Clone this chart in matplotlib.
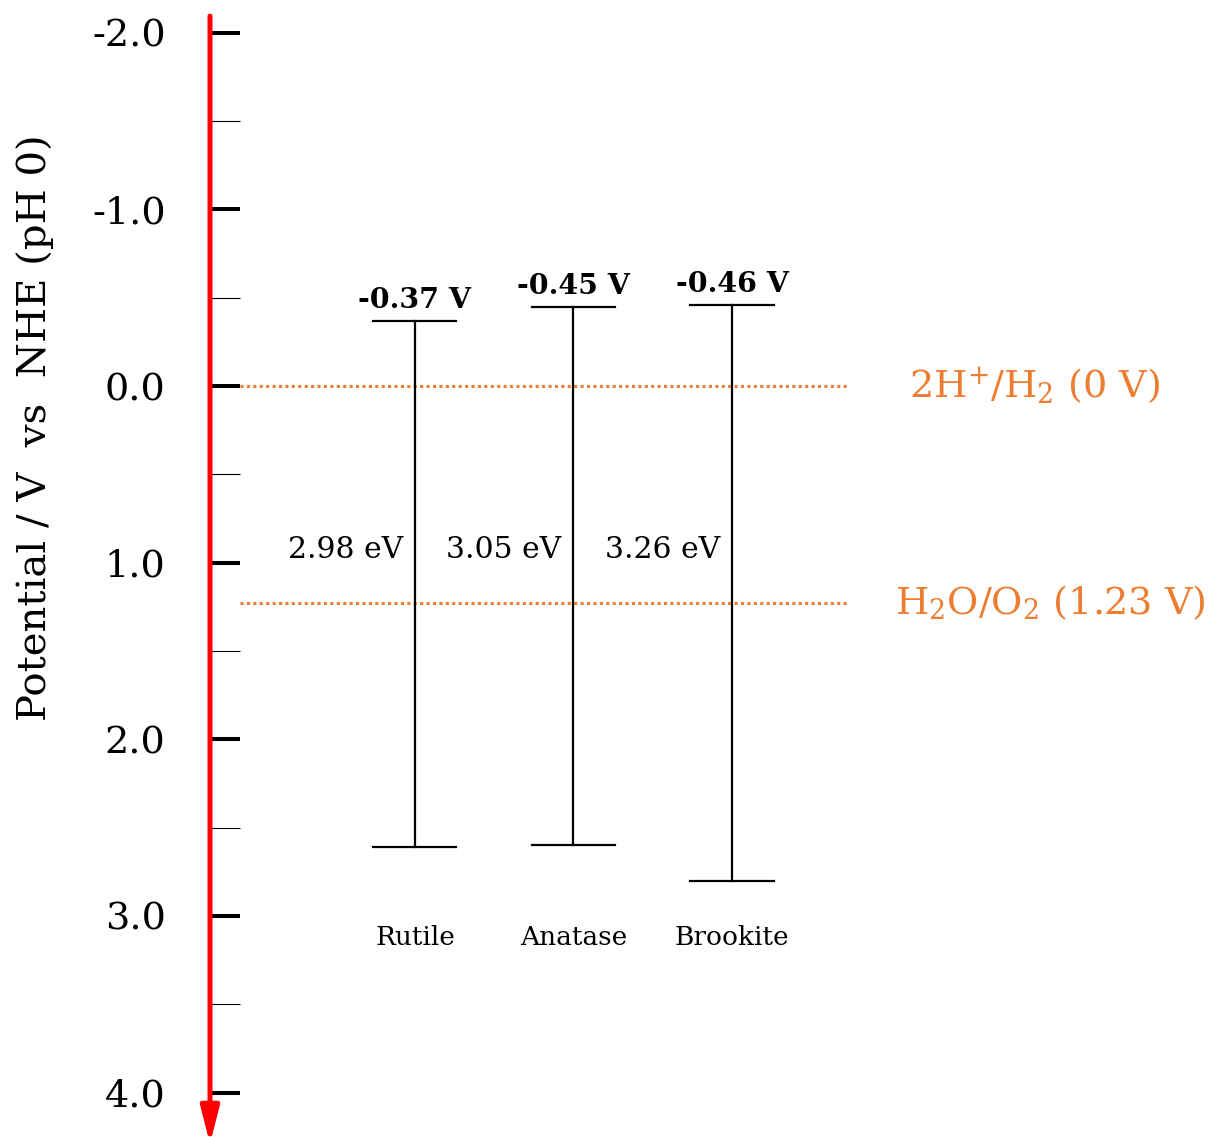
import numpy as np
import matplotlib.pyplot as plt

plt.rcParams['font.family'] = 'DejaVu Serif'
plt.rcParams['mathtext.fontset'] = 'dejavuserif'

# ============================================================
# DATA - TiO2 polymorphs, conduction band edge and band gap
# ============================================================
phases = ["Rutile", "Anatase", "Brookite"]
cb_edge = [-0.37, -0.45, -0.46]   # V vs NHE
band_gap = [2.98, 3.05, 3.26]     # eV

redox_pot = [0.0, 1.23]
redox_labels = [r"2H$^{+}$/H$_{2}$ (0 V)", r"H$_{2}$O/O$_{2}$ (1.23 V)"]

major_ticks = [-2.0, -1.0, 0.0, 1.0, 2.0, 3.0, 4.0]
minor_ticks = [-1.5, -0.5, 0.5, 1.5, 2.5, 3.5]

orange = '#ED7D31'

# ============================================================
# FIGURE
# ============================================================
fig = plt.figure(figsize=(12.15, 11.37), dpi=100)
ax = fig.add_axes([210 / 1215, 0, 1 - 210 / 1215, 1])
ax.set_xlim(-1.293, 5.047)
ax.set_ylim(4.251, -2.185)

for s in ['top', 'right', 'bottom', 'left']:
  ax.spines[s].set_visible(False)
ax.set_xticks([])

ax.set_yticks(major_ticks)
ax.set_yticklabels([f"{v:.1f}" for v in major_ticks], fontsize=27.5)
ax.set_yticks(minor_ticks, minor=True)
ax.tick_params(axis='y', which='major', direction='in', length=21.6, width=2.9, pad=32)
ax.tick_params(axis='y', which='minor', direction='in', length=21.6, width=0.8)
fig.text(0.029, 0.624, "Potential / V  vs  NHE (pH 0)", fontsize=29,
         rotation=90, ha='center', va='center')

# red potential axis with arrow pointing to positive potentials
ax.annotate('', xy=(-1.293, 4.29), xytext=(-1.293, -2.094),
            arrowprops=dict(arrowstyle='-|>,head_length=1.1,head_width=0.28',
                            color='red', lw=3.6, shrinkA=0, shrinkB=0,
                            mutation_scale=20),
            annotation_clip=False, zorder=5)

# redox levels
for pot, lab in zip(redox_pot, redox_labels):
  ax.plot([-1.104, 2.732], [pot, pot], color=orange, lw=2.2, ls=(0, (1, 1.1)))
x_lab = [3.114, 3.03]
for pot, lab, xl in zip(redox_pot, redox_labels, x_lab):
  ax.text(xl, pot, lab, color=orange, fontsize=27.5, ha='left', va='center')

# band positions
for i, (name, cb, eg) in enumerate(zip(phases, cb_edge, band_gap)):
  vb = cb + eg
  ax.plot([i, i], [cb, vb], color='black', lw=1.6)
  ax.plot([i - 0.262, i + 0.262], [cb, cb], color='black', lw=1.6)
  ax.plot([i - 0.262, i + 0.262], [vb, vb], color='black', lw=1.6)
  ax.annotate(f"{cb:.2f} V", (i, cb), xytext=(0, 5), textcoords='offset points',
              ha='center', va='bottom', fontsize=20.5, fontweight='bold')
  ax.text(i - 0.076, 0.93, f"{eg:.2f} eV", ha='right', va='center', fontsize=21.5)
  ax.text(i, 3.12, name, ha='center', va='center', fontsize=19)

plt.savefig('out.png', dpi=100)
